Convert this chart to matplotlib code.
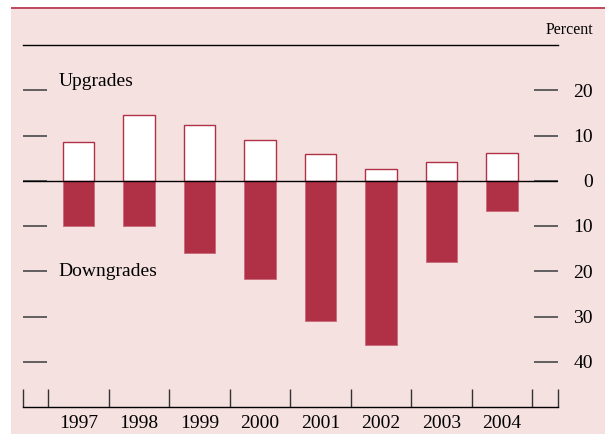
import matplotlib
matplotlib.use("Agg")
import matplotlib.pyplot as plt
from matplotlib.patches import Rectangle
from matplotlib.ticker import FixedLocator, FuncFormatter
import numpy as np

years = ["1997", "1998", "1999", "2000", "2001", "2002", "2003", "2004"]
upgrades = [8.5, 14.5, 12.4, 9.1, 5.9, 2.5, 4.1, 6.1]
downgrades = [9.9, 10.0, 15.9, 21.7, 31.1, 36.4, 17.9, 6.6]
ytick_vals = [20, 10, 0, -10, -20, -30, -40]

PINK = "#F5E1E0"
RED = "#B03046"

plt.rcParams['font.family'] = ['Liberation Serif', 'DejaVu Serif']

fig = plt.figure(figsize=(6.05, 4.34), dpi=100, facecolor="white")
# background panel
fig.patches.append(Rectangle((11 / 605, 0), 1 - 11 / 605, (434 - 9) / 434,
                             transform=fig.transFigure, facecolor=PINK,
                             edgecolor="none", zorder=-5))
fig.patches.append(Rectangle((11 / 605, (434 - 9) / 434), 1 - 11 / 605, 2 / 434,
                             transform=fig.transFigure, facecolor="#C04A5E",
                             edgecolor="none", zorder=-5))

ax = fig.add_axes([23.1 / 605, 27 / 434, 535.2 / 605, 362 / 434])
ax.set_facecolor("none")
ax.set_zorder(1)

x = np.arange(len(years))
w = 0.52
ax.bar(x, upgrades, width=w, color="white", edgecolor=RED, linewidth=1.0, zorder=2)
ax.bar(x, [-d for d in downgrades], width=w, color=RED, edgecolor="#C9687A",
       linewidth=0.6, zorder=2)
ax.axhline(0, color="black", linewidth=1.0, zorder=3)

ax.set_xlim(-0.92, 7.93)
ax.set_ylim(-50, 30)

for s in ["left", "right"]:
    ax.spines[s].set_visible(False)
for s in ["top", "bottom"]:
    ax.spines[s].set_color("black")
    ax.spines[s].set_linewidth(1.0)

# y ticks as dashes on both sides
ax.yaxis.set_major_locator(FixedLocator(ytick_vals))
ax.yaxis.set_major_formatter(FuncFormatter(lambda v, p: f"{abs(int(v))}"))
ax.tick_params(axis="y", direction="in", length=17.5, width=1.3, color="#555555",
               left=True, right=True, labelleft=False, labelright=True,
               labelsize=14, pad=25)
for lab in ax.get_yticklabels():
    lab.set_horizontalalignment("right")

# x ticks: labels at categories, short vertical lines at boundaries and edges
ax.xaxis.set_major_locator(FixedLocator(list(x)))
ax.set_xticklabels(years)
ax.tick_params(axis="x", which="major", length=0, labelsize=14, pad=6)
bounds = [-0.92] + [i - 0.5 for i in range(len(years) + 1)] + [7.93]
ax.xaxis.set_minor_locator(FixedLocator(bounds))
ax.tick_params(axis="x", which="minor", direction="in", length=13, width=1.0,
               color="#333333")

ax.text(-0.33, 22, "Upgrades", fontsize=14, ha="left", va="center")
ax.text(-0.33, -20, "Downgrades", fontsize=14, ha="left", va="center")
fig.text(593 / 605, 1 - 30 / 434, "Percent", fontsize=11.5, ha="right", va="center")

fig.savefig("out.png", dpi=100, facecolor="white")
